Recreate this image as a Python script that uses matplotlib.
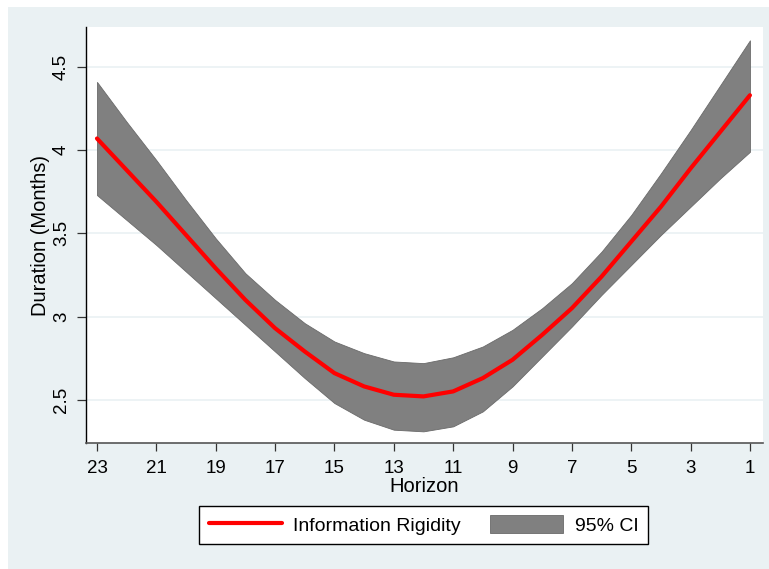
import numpy as np
import matplotlib
matplotlib.use('Agg')
from matplotlib import pyplot as plt
from matplotlib.patches import Rectangle

plt.rcParams['font.family'] = ['Liberation Sans', 'DejaVu Sans']

# horizon (months ahead) and estimated duration with its 95% band
horizon = list(range(23, 0, -1))
duration = [4.07, 3.88, 3.69, 3.49, 3.29, 3.10, 2.93, 2.79, 2.66, 2.58, 2.53, 2.52,
            2.55, 2.63, 2.74, 2.89, 3.05, 3.24, 3.45, 3.66, 3.89, 4.11, 4.33]
ci_upper = [4.41, 4.17, 3.94, 3.70, 3.47, 3.26, 3.10, 2.96, 2.85, 2.78, 2.73, 2.72,
            2.755, 2.82, 2.92, 3.05, 3.20, 3.39, 3.61, 3.86, 4.12, 4.39, 4.66]
ci_lower = [3.73, 3.58, 3.43, 3.27, 3.11, 2.95, 2.79, 2.63, 2.48, 2.38, 2.32, 2.31,
            2.34, 2.43, 2.58, 2.76, 2.94, 3.13, 3.31, 3.49, 3.66, 3.83, 3.99]
x_ticks = [23, 21, 19, 17, 15, 13, 11, 9, 7, 5, 3, 1]
y_ticks = [2.5, 3, 3.5, 4, 4.5]

W, H = 769, 569
bg = '#EAF1F3'
fig = plt.figure(figsize=(W / 100, H / 100), dpi=100, facecolor='white')
fig.patches.append(Rectangle((8 / W, 0), 1 - 8 / W, 1 - 7 / H, transform=fig.transFigure,
                             facecolor=bg, edgecolor='none', zorder=-10))

ax = fig.add_axes([86 / W, (H - 443) / H, (763 - 86) / W, (443 - 27) / H])
ax.set_facecolor('white')

ax.fill_between(horizon, ci_lower, ci_upper, facecolor='#808080', edgecolor='#6a6a6a',
                linewidth=0.6, label='95% CI', zorder=2)
ax.plot(horizon, duration, color='#FF0000', linewidth=3, label='Information Rigidity',
        solid_capstyle='round', zorder=3)

ax.set_xlim(23.37, 0.56)
ax.set_ylim(2.24, 4.74)
ax.set_xticks(x_ticks)
ax.set_yticks(y_ticks)
ax.set_yticklabels(['2.5', '3', '3.5', '4', '4.5'], rotation=90, va='center')
ax.grid(axis='y', color='#EAF1F3', linewidth=1.2, zorder=1)
ax.set_axisbelow(True)

for s in ['top', 'right']:
    ax.spines[s].set_visible(False)
ax.spines['left'].set_color('black')
ax.spines['bottom'].set_color('#555555')
ax.spines['left'].set_linewidth(1.0)
ax.spines['bottom'].set_linewidth(1.2)
ax.tick_params(axis='y', length=6.5, width=0.9, color='#333333', pad=5, labelsize=13.5)
ax.tick_params(axis='x', length=6, width=0.9, color='#333333', pad=6, labelsize=13.5)

ax.set_xlabel('Horizon', fontsize=14.5, labelpad=0)
ax.set_ylabel('Duration (Months)', fontsize=14.5, labelpad=2)

handles, labels = ax.get_legend_handles_labels()
order = [1, 0]
leg = fig.legend([handles[i] for i in order], [labels[i] for i in order],
                 loc='center', bbox_to_anchor=(423.5 / W, 1 - 525 / H), ncol=2,
                 fontsize=14, frameon=True, fancybox=False, edgecolor='black',
                 facecolor='white', framealpha=1, handlelength=3.75, handleheight=1.0,
                 handletextpad=0.6, columnspacing=1.5, borderpad=0.5, borderaxespad=0)
leg.get_frame().set_linewidth(1.0)

plt.savefig('out.png', dpi=100, facecolor=fig.get_facecolor())
plt.close()
